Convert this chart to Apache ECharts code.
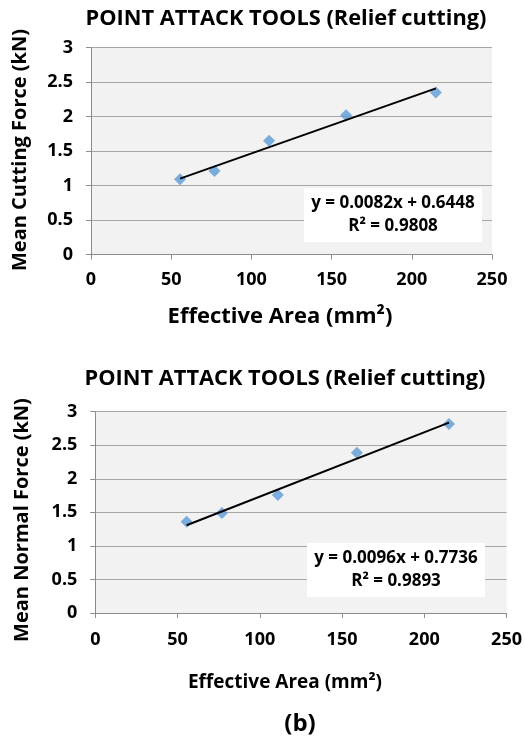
<!DOCTYPE html>
<html><head><meta charset="utf-8">
<script src="https://cdn.jsdelivr.net/npm/echarts@6/dist/echarts.min.js"></script>
<style>html,body{margin:0;padding:0;background:#fff}#c{width:525px;height:740px}</style>
</head><body><div id="c"></div>
<script>
const area = [55.5, 77, 111, 159, 215];
const cuttingForce = [1.09, 1.21, 1.65, 2.02, 2.35];
const normalForce = [1.36, 1.49, 1.76, 2.39, 2.815];
const cuttingTrend = [[55.5, 1.10], [215, 2.41]];
const normalTrend = [[55.5, 1.307], [215, 2.838]];
const xTicks = [0, 50, 100, 150, 200, 250];
const yTicks = [0, 0.5, 1, 1.5, 2, 2.5, 3];
const titleText = 'POINT ATTACK TOOLS (Relief cutting)';
const eq1 = ['y = 0.0082x + 0.6448', 'R² = 0.9808'];
const eq2 = ['y = 0.0096x + 0.7736', 'R² = 0.9893'];

const F = '"Open Sans", sans-serif';
const chart = echarts.init(document.getElementById('c'), null, {renderer: 'canvas'});

function xAxis(idx, margin) {
  return {
    gridIndex: idx, type: 'value', min: xTicks[0], max: xTicks[xTicks.length - 1], interval: 50,
    axisLine: {show: true, lineStyle: {color: '#8c8c8c', width: 1}},
    axisTick: {show: true, length: 5, lineStyle: {color: '#8c8c8c'}},
    splitLine: {show: false},
    axisLabel: {color: '#000', fontFamily: F, fontWeight: 'bold', fontSize: 18, margin: margin}
  };
}
function yAxis(idx) {
  return {
    gridIndex: idx, type: 'value', min: yTicks[0], max: yTicks[yTicks.length - 1], interval: 0.5,
    axisLine: {show: true, lineStyle: {color: '#8c8c8c', width: 1}},
    axisTick: {show: true, length: 5, lineStyle: {color: '#8c8c8c'}},
    splitLine: {show: true, lineStyle: {color: '#a6a6a6', width: 1}},
    axisLabel: {color: '#000', fontFamily: F, fontWeight: 'bold', fontSize: 18, margin: 18}
  };
}
const pts1 = area.map((x, i) => [x, cuttingForce[i]]);
const pts2 = area.map((x, i) => [x, normalForce[i]]);

chart.setOption({
  animation: false,
  backgroundColor: '#fff',
  grid: [
    {left: 91, right: 33, top: 47.7, bottom: 485.5, show: true, backgroundColor: '#f2f2f2', borderWidth: 0},
    {left: 95.3, right: 18, top: 411.7, bottom: 127, show: true, backgroundColor: '#f2f2f2', borderWidth: 0}
  ],
  xAxis: [xAxis(0, 16.5), xAxis(1, 18)],
  yAxis: [yAxis(0), yAxis(1)],
  title: [
    {text: titleText, left: 281, top: 3, textAlign: 'center', textStyle: {fontFamily: F, fontWeight: 'bold', fontSize: 21.8, color: '#000'}},
    {text: titleText, left: 280, top: 363, textAlign: 'center', textStyle: {fontFamily: F, fontWeight: 'bold', fontSize: 21.8, color: '#000'}},
    {text: 'Effective Area (mm²)', left: 275, top: 301, textAlign: 'center', textStyle: {fontFamily: F, fontWeight: 'bold', fontSize: 22, color: '#000'}},
    {text: 'Effective Area (mm²)', left: 280, top: 668, textAlign: 'center', textStyle: {fontFamily: F, fontWeight: 'bold', fontSize: 19, color: '#000'}},
    {text: '(b)', left: 295, top: 707, textAlign: 'center', textStyle: {fontFamily: F, fontWeight: 'bold', fontSize: 24, color: '#000'}}
  ],
  graphic: [
    {type: 'text', x: 20, y: 150, rotation: Math.PI / 2, style: {text: 'Mean Cutting Force (kN)', fontFamily: F, fontWeight: 'bold', fontSize: 20, fill: '#000', align: 'center', verticalAlign: 'middle'}},
    {type: 'text', x: 22, y: 520, rotation: Math.PI / 2, style: {text: 'Mean Normal Force (kN)', fontFamily: F, fontWeight: 'bold', fontSize: 20, fill: '#000', align: 'center', verticalAlign: 'middle'}},
    {type: 'rect', shape: {x: 304, y: 188, width: 178, height: 54}, style: {fill: '#fff'}, z: 10},
    {type: 'text', x: 393, y: 215, z: 11, style: {text: eq1.join('\n'), fontFamily: F, fontWeight: 'bold', fontSize: 17, lineHeight: 23, fill: '#000', align: 'center', verticalAlign: 'middle'}},
    {type: 'rect', shape: {x: 307, y: 543, width: 178, height: 54}, style: {fill: '#fff'}, z: 10},
    {type: 'text', x: 396, y: 570, z: 11, style: {text: eq2.join('\n'), fontFamily: F, fontWeight: 'bold', fontSize: 17, lineHeight: 23, fill: '#000', align: 'center', verticalAlign: 'middle'}}
  ],
  series: [
    {type: 'scatter', xAxisIndex: 0, yAxisIndex: 0, data: pts1, symbol: 'diamond', symbolSize: 12, itemStyle: {color: '#5b9bd5'}, z: 3},
    {type: 'line', xAxisIndex: 0, yAxisIndex: 0, data: cuttingTrend, symbol: 'none', lineStyle: {color: '#000', width: 2}, z: 4},
    {type: 'scatter', xAxisIndex: 1, yAxisIndex: 1, data: pts2, symbol: 'diamond', symbolSize: 12, itemStyle: {color: '#5b9bd5'}, z: 3},
    {type: 'line', xAxisIndex: 1, yAxisIndex: 1, data: normalTrend, symbol: 'none', lineStyle: {color: '#000', width: 2}, z: 4}
  ]
});
</script></body></html>
